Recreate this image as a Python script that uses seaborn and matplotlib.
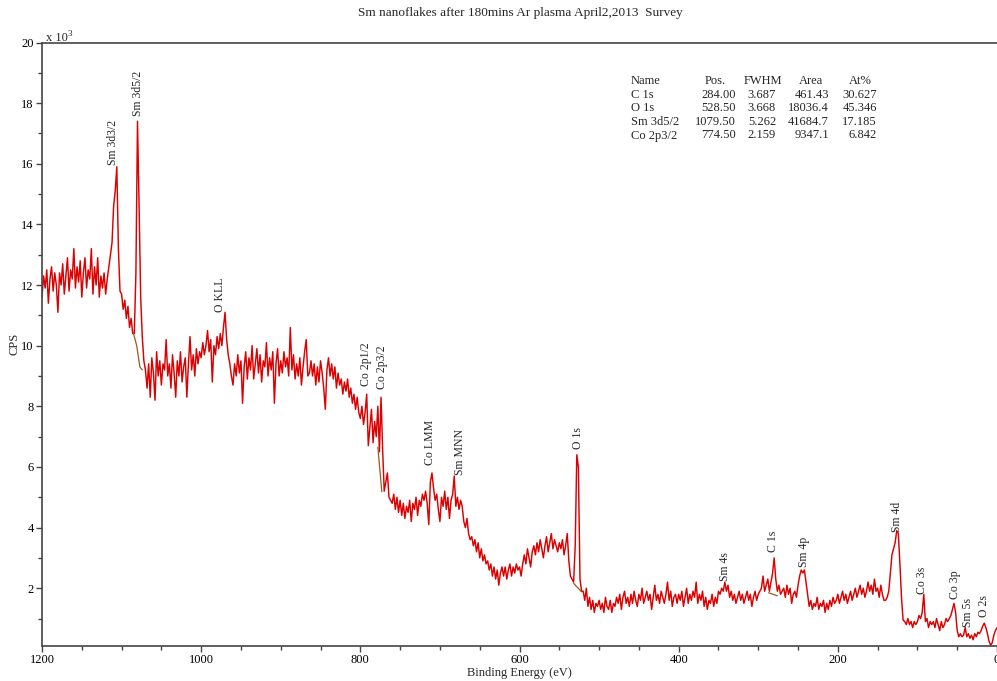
import numpy as np
import pandas as pd
import matplotlib
matplotlib.use("Agg")
import matplotlib.pyplot as plt
from matplotlib.ticker import MultipleLocator
import seaborn as sns

# Survey spectrum, counts per second in thousands, 2 eV steps from 1200 eV down to 0 eV
counts_k = [
    11.6, 12.3, 11.9, 12.5, 11.4, 12.2, 12.6, 11.8, 12.4, 12.0,   # 1200
    11.1, 12.4, 12.0, 12.7, 11.7, 12.3, 12.9, 11.8, 12.5, 12.2,   # 1180
    13.2, 11.9, 12.6, 12.1, 12.8, 11.6, 12.4, 12.9, 11.9, 12.5,   # 1160
    12.2, 13.2, 11.7, 12.6, 12.0, 12.9, 11.6, 12.3, 11.9, 12.4,   # 1140
    11.7, 12.2, 12.6, 13.0, 13.4, 14.6, 15.1, 15.9, 13.2, 11.8,   # 1120
    11.7, 11.2, 11.5, 10.9, 11.3, 10.6, 10.9, 10.4, 10.4, 12.4,   # 1100
    17.4, 14.6, 11.6, 10.3, 9.5, 9.2, 8.6, 9.4, 8.3, 9.6,         # 1080
    9.1, 8.2, 9.8, 9.0, 9.5, 8.7, 9.4, 9.2, 10.2, 9.0,            # 1060
    9.4, 8.6, 9.7, 9.1, 8.3, 9.5, 9.0, 9.8, 8.8, 9.3,             # 1040
    9.6, 8.3, 9.4, 10.3, 9.2, 9.7, 9.0, 9.9, 9.4, 9.8,            # 1020
    9.6, 10.1, 9.7, 10.0, 10.5, 9.8, 10.2, 8.8, 10.0, 9.7,        # 1000
    10.3, 9.9, 10.4, 10.0, 10.6, 11.1, 10.2, 9.7, 9.4, 9.0,       # 980
    8.7, 9.4, 9.0, 9.7, 9.1, 9.5, 8.1, 9.3, 9.8, 8.9,             # 960
    9.6, 9.2, 10.0, 8.9, 9.4, 9.9, 9.1, 9.7, 8.8, 9.5,            # 940
    9.3, 10.1, 9.0, 9.6, 9.2, 9.8, 8.1, 9.4, 9.9, 9.0,            # 920
    9.5, 9.1, 9.8, 9.3, 9.6, 9.0, 10.6, 9.2, 9.7, 8.9,            # 900
    9.4, 9.0, 9.6, 8.7, 9.3, 9.8, 10.2, 9.0, 9.1, 9.5,            # 880
    9.0, 9.4, 8.7, 9.3, 8.8, 9.5, 9.1, 8.6, 7.9, 9.2,             # 860
    9.6, 9.0, 9.4, 8.9, 9.3, 8.6, 9.1, 8.7, 8.9, 8.4,             # 840
    8.8, 8.5, 8.9, 8.3, 8.6, 8.1, 8.4, 7.9, 8.3, 7.8,             # 820
    7.6, 8.0, 7.4, 7.8, 8.4, 6.7, 7.3, 7.9, 6.8, 7.5,             # 800
    7.0, 8.0, 6.5, 8.3, 6.6, 5.2, 5.5, 5.8, 5.0, 4.9,             # 780
    4.8, 5.1, 4.6, 5.0, 4.5, 4.9, 4.4, 4.8, 4.3, 4.7,             # 760
    4.5, 4.9, 4.2, 4.8, 4.6, 5.0, 4.4, 4.9, 4.7, 5.1,             # 740
    4.9, 5.2, 4.8, 4.1, 5.5, 5.8, 5.3, 4.9, 5.1, 4.6,             # 720
    4.2, 5.0, 4.7, 5.2, 4.6, 5.0, 4.3, 4.9, 5.1, 5.7,             # 700
    4.7, 5.0, 4.6, 4.9, 4.7, 4.2, 4.0, 4.3, 3.8, 3.6,             # 680
    3.7, 3.4, 3.6, 3.2, 3.5, 3.0, 3.3, 2.9, 3.1, 2.8,             # 660
    2.9, 2.6, 2.8, 2.4, 2.7, 2.3, 2.6, 2.1, 2.5, 2.7,             # 640
    2.4, 2.7, 2.3, 2.6, 2.8, 2.4, 2.7, 2.5, 2.8, 2.6,             # 620
    2.7, 2.4, 2.8, 3.1, 2.8, 3.3, 3.0, 2.7, 3.2, 3.4,             # 600
    3.1, 3.5, 3.2, 3.6, 3.3, 3.0, 3.4, 3.7, 3.2, 3.5,             # 580
    3.8, 3.3, 3.6, 3.4, 3.2, 3.5, 3.3, 3.6, 3.1, 3.4,             # 560
    3.8, 2.9, 2.4, 2.3, 2.2, 3.4, 6.4, 6.0, 2.3, 1.9,             # 540
    1.9, 1.6, 2.0, 1.4, 1.7, 1.3, 1.6, 1.2, 1.5, 1.4,             # 520
    1.6, 1.3, 1.5, 1.2, 1.7, 1.4, 1.3, 1.6, 1.2, 1.5,             # 500
    1.4, 1.7, 1.5, 1.8, 1.3, 1.7, 1.9, 1.5, 1.7, 1.4,             # 480
    1.8, 1.5, 1.9, 1.6, 1.4, 1.8, 1.6, 2.0, 1.5, 1.7,             # 460
    1.9, 1.6, 1.8, 1.3, 1.7, 2.1, 1.6, 1.8, 1.5, 1.9,             # 440
    1.7, 1.5, 1.8, 2.2, 1.6, 1.9, 1.4, 1.7, 1.8, 1.5,             # 420
    1.8, 1.6, 1.9, 1.4, 1.7, 2.0, 1.5, 1.8, 1.6, 1.9,             # 400
    1.7, 2.2, 1.5, 1.8, 1.6, 1.9, 1.4, 1.7, 1.3, 1.6,             # 380
    1.5, 1.8, 1.4, 1.7, 1.5, 1.9, 1.8, 2.0, 1.9, 2.2,             # 360
    1.9, 2.1, 1.7, 1.9, 1.6, 1.8, 1.5, 1.7, 1.9, 1.6,             # 340
    1.8, 1.5, 1.7, 1.9, 1.6, 1.8, 1.4, 1.7, 1.9, 1.6,             # 320
    1.8, 1.9, 2.0, 2.4, 1.9, 2.1, 2.3, 1.9, 2.2, 2.5,             # 300
    3.0, 2.3, 1.9, 2.1, 1.8, 1.9, 2.0, 1.7, 2.1, 1.8,             # 280
    2.0, 1.5, 1.8, 1.9, 1.7, 2.1, 2.4, 2.6, 2.5, 2.6,             # 260
    2.2, 1.8, 1.4, 1.6, 1.3, 1.5, 1.4, 1.7, 1.3, 1.5,             # 240
    1.4, 1.6, 1.2, 1.5, 1.3, 1.6, 1.4, 1.7, 1.5, 1.6,             # 220
    1.8, 1.5, 1.7, 1.9, 1.6, 1.8, 1.5, 1.7, 1.9, 1.6,             # 200
    1.8, 2.0, 1.7, 1.9, 2.1, 1.8, 2.0, 1.7, 1.9, 2.2,             # 180
    1.9, 2.1, 1.8, 2.3, 1.9, 2.0, 1.7, 2.1, 1.8, 1.6,             # 160
    1.6, 1.7, 1.9, 2.5, 3.1, 3.3, 3.5, 3.9, 3.8, 2.8,             # 140
    1.7, 0.95, 0.9, 0.8, 1.0, 0.8, 0.9, 0.7, 0.9, 0.8,            # 120
    0.9, 1.1, 1.0, 1.2, 1.8, 0.9, 1.0, 0.7, 0.9, 0.8,             # 100
    0.9, 0.7, 1.0, 0.8, 0.6, 0.9, 0.7, 0.8, 1.0, 0.9,             # 80
    1.0, 1.1, 1.3, 1.5, 1.2, 0.6, 0.4, 0.5, 0.4, 0.45,            # 60
    0.7, 0.4, 0.5, 0.35, 0.45, 0.3, 0.5, 0.4, 0.55, 0.5,          # 40
    0.6, 0.75, 0.85, 0.7, 0.5, 0.25, 0.12, 0.2, 0.45, 0.6,        # 20
    0.7,                                                          # 0
]
binding_energy = np.linspace(1200, 0, len(counts_k))

# Linear backgrounds used for the quantified regions
bg_sm3d_be, bg_sm3d_k = [1085, 1081, 1077, 1074], [10.4, 10.0, 9.3, 9.2]
bg_co2p_be, bg_co2p_k = [778, 773], [6.65, 5.18]
bg_o1s_be, bg_o1s_k = [532, 522], [2.16, 1.88]
bg_c1s_be, bg_c1s_k = [287, 276], [1.85, 1.75]

# Peak assignments and label anchors (BE, label base height)
peak_names = ["Sm 3d3/2", "Sm 3d5/2", "O KLL", "Co 2p1/2", "Co 2p3/2", "Co LMM",
              "Sm MNN", "O 1s", "Sm 4s", "C 1s", "Sm 4p", "Sm 4d", "Co 3s",
              "Co 3p", "Sm 5s", "O 2s"]
peak_be = [1110.8, 1079.4, 976.3, 792.9, 772.8, 712.4, 674.7, 526.5, 341.7,
           281.4, 242.5, 125.6, 94.2, 52.7, 36.4, 16.3]
peak_label_k = [15.95, 17.56, 11.1, 8.66, 8.56, 6.06, 5.73, 6.58, 2.23,
                3.19, 2.69, 3.85, 1.80, 1.64, 0.72, 1.05]

# Quantification table
tab_names = ["C 1s", "O 1s", "Sm 3d5/2", "Co 2p3/2"]
tab_pos = ["284.00", "528.50", "1079.50", "774.50"]
tab_fwhm = ["3.687", "3.668", "5.262", "2.159"]
tab_area = ["461.43", "18036.4", "41684.7", "9347.1"]
tab_at = ["30.627", "45.346", "17.185", "6.842"]

sns.set_theme(style="ticks")
plt.rcParams["font.family"] = ["Liberation Serif", "DejaVu Serif"]

FS = 9
W, H = 997, 681
fig = plt.figure(figsize=(W / 100, H / 100), dpi=100)
ax = fig.add_axes([42 / W, 1 - 645.5 / H, 1 - 42 / W, (645.5 - 42.5) / H])

df = pd.DataFrame({"be": binding_energy, "cps": counts_k})
sns.lineplot(data=df, x="be", y="cps", ax=ax, estimator=None, sort=False,
             color="#dd0000", linewidth=1.05)
for bx, by in [(bg_sm3d_be, bg_sm3d_k), (bg_co2p_be, bg_co2p_k),
               (bg_o1s_be, bg_o1s_k), (bg_c1s_be, bg_c1s_k)]:
    sns.lineplot(x=bx, y=by, ax=ax, estimator=None, sort=False,
                 color="#9a5a1a", linewidth=0.9)

ax.set_xlim(1200, 0)
ax.set_ylim(0.11, 20)
ax.xaxis.set_major_locator(MultipleLocator(200))
ax.xaxis.set_minor_locator(MultipleLocator(50))
ax.yaxis.set_major_locator(MultipleLocator(2))
ax.yaxis.set_minor_locator(MultipleLocator(1))
ax.set_yticks(np.arange(2, 21, 2))
ax.tick_params(which="both", direction="out", color="#444444", width=1,
               labelsize=FS, labelcolor="black", pad=2)
ax.tick_params(which="major", length=4)
ax.tick_params(which="minor", length=3)
for side in ["left", "bottom", "top"]:
    ax.spines[side].set_color("#444444")
    ax.spines[side].set_linewidth(1.2)
ax.spines["right"].set_visible(False)

ax.set_xlabel("Binding Energy (eV)", fontsize=FS)
ax.set_ylabel("CPS", fontsize=FS)
ax.xaxis.set_label_coords((519 - 42) / 955, -(667 - 645.5) / 603)
ax.yaxis.set_label_coords(-(42 - 20) / 955, 0.5)

fig.text(520 / W, 1 - 13 / H, "Sm nanoflakes after 180mins Ar plasma April2,2013  Survey",
         ha="center", va="center", fontsize=9.5)
fig.text(46 / W, 1 - 41 / H, "x 10", ha="left", va="baseline", fontsize=FS)
fig.text(67.5 / W, 1 - 36 / H, "3", ha="left", va="baseline", fontsize=6.5)

for name, bx, by in zip(peak_names, peak_be, peak_label_k):
    ax.text(bx, by, name, rotation=90, ha="center", va="bottom", fontsize=8.5)

# Quantification table
rows_y = [94.5, 108, 122, 135.5]
hdr_y = 81
fig.text(631 / W, 1 - hdr_y / H, "Name", ha="left", va="center", fontsize=FS)
fig.text(715 / W, 1 - hdr_y / H, "Pos.", ha="center", va="center", fontsize=FS)
fig.text(763 / W, 1 - hdr_y / H, "FWHM", ha="center", va="center", fontsize=FS)
fig.text(811 / W, 1 - hdr_y / H, "Area", ha="center", va="center", fontsize=FS)
fig.text(860 / W, 1 - hdr_y / H, "At%", ha="center", va="center", fontsize=FS)
for ry, n, p, f, a, at in zip(rows_y, tab_names, tab_pos, tab_fwhm, tab_area, tab_at):
    fig.text(631 / W, 1 - ry / H, n, ha="left", va="center", fontsize=FS)
    fig.text(736 / W, 1 - ry / H, p, ha="right", va="center", fontsize=FS)
    fig.text(776 / W, 1 - ry / H, f, ha="right", va="center", fontsize=FS)
    fig.text(829 / W, 1 - ry / H, a, ha="right", va="center", fontsize=FS)
    fig.text(877 / W, 1 - ry / H, at, ha="right", va="center", fontsize=FS)

fig.savefig("out.png", dpi=100)
